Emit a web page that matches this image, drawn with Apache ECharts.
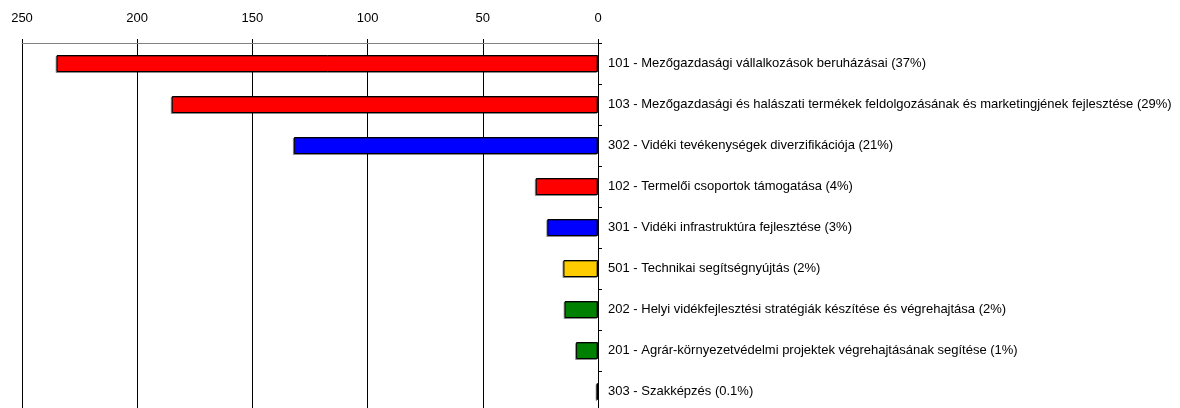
<!DOCTYPE html>
<html>
<head>
<meta charset="utf-8">
<script src="https://cdn.jsdelivr.net/npm/echarts@6/dist/echarts.min.js"></script>
<style>
  html, body { margin: 0; padding: 0; background: #fff; overflow: hidden; }
  #main { width: 1180px; height: 420px; }
</style>
</head>
<body>
<div id="main"></div>
<script>
const categories = [
  '101 - Mezőgazdasági vállalkozások beruházásai (37%)',
  '103 - Mezőgazdasági és halászati termékek feldolgozásának és marketingjének fejlesztése (29%)',
  '302 - Vidéki tevékenységek diverzifikációja (21%)',
  '102 - Termelői csoportok támogatása (4%)',
  '301 - Vidéki infrastruktúra fejlesztése (3%)',
  '501 - Technikai segítségnyújtás (2%)',
  '202 - Helyi vidékfejlesztési stratégiák készítése és végrehajtása (2%)',
  '201 - Agrár-környezetvédelmi projektek végrehajtásának segítése (1%)',
  '303 - Szakképzés (0.1%)'
];
const values = [235, 185, 132, 27, 22, 15, 14.5, 9.5, 0.6];
const xTicks = { min: 0, max: 250, step: 50 };

// colour for each bar, same order as categories
const barColors = ['#ff0000', '#ff0000', '#0000ff', '#ff0000', '#0000ff', '#ffcc00', '#008000', '#008000', '#008000'];

var myChart = echarts.init(document.getElementById('main'));

var option = {
  animation: false,
  grid: {
    left: 22,
    right: 582,
    top: 43,
    bottom: 8
  },
  xAxis: {
    type: 'value',
    position: 'top',
    inverse: true,
    min: xTicks.min,
    max: xTicks.max,
    interval: xTicks.step,
    axisLine: { show: true, lineStyle: { color: '#808080', width: 1 } },
    axisTick: { show: true, length: 4, lineStyle: { color: '#000' } },
    axisLabel: {
      color: '#000',
      fontFamily: 'Liberation Sans, Arial, sans-serif',
      fontSize: 13,
      margin: 18
    },
    splitLine: { show: true, lineStyle: { color: '#000', width: 1 } }
  },
  yAxis: {
    type: 'category',
    position: 'right',
    inverse: true,
    data: categories,
    axisLine: { show: true, lineStyle: { color: '#000', width: 1 } },
    axisTick: { show: true, length: 4, lineStyle: { color: '#000' } },
    axisLabel: {
      color: '#000',
      fontFamily: 'Liberation Sans, Arial, sans-serif',
      fontSize: 13,
      margin: 10
    },
    splitLine: { show: false }
  },
  series: [
    {
      type: 'bar',
      barWidth: 17,
      data: values.map((v, i) => ({
        value: v,
        itemStyle: { color: barColors[i] }
      })),
      itemStyle: {
        borderColor: '#000',
        borderWidth: 1,
        shadowColor: 'rgba(0,0,0,0.35)',
        shadowOffsetX: -1,
        shadowOffsetY: 1
      }
    }
  ]
};

myChart.setOption(option);
</script>
</body>
</html>
